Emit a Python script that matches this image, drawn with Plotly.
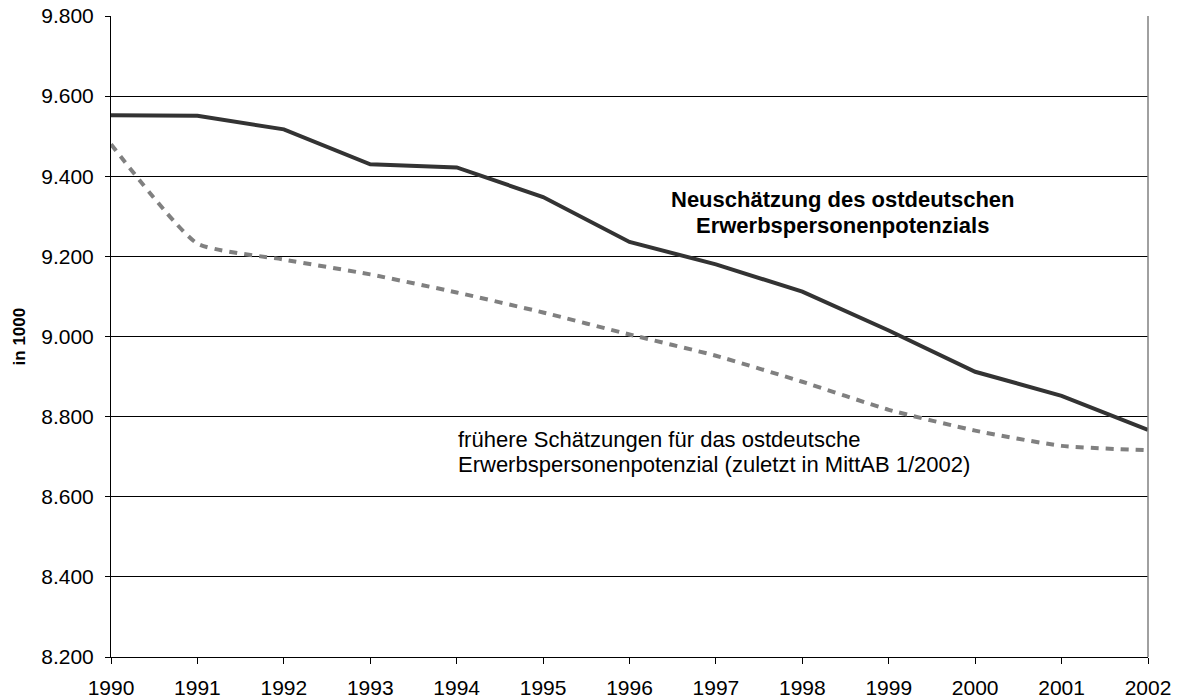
import plotly.graph_objects as go

years = [1990, 1991, 1992, 1993, 1994, 1995, 1996, 1997, 1998, 1999, 2000, 2001, 2002]
neuschaetzung = [9552, 9551, 9517, 9430, 9422, 9348, 9236, 9180, 9112, 9015, 8912, 8852, 8767]
fruehere = [9480, 9232, 9192, 9155, 9110, 9060, 9005, 8952, 8887, 8817, 8765, 8727, 8716]
y_ticks = [8200, 8400, 8600, 8800, 9000, 9200, 9400, 9600, 9800]

label_new = ["Neuschätzung des ostdeutschen", "Erwerbspersonenpotenzials"]
label_old = ["frühere Schätzungen für das ostdeutsche",
             "Erwerbspersonenpotenzial (zuletzt in MittAB 1/2002)"]
y_title = "in 1000"

FONT = "Liberation Sans, Arial, sans-serif"

fig = go.Figure()
fig.add_trace(go.Scatter(
    x=years, y=fruehere, mode="lines",
    line=dict(color="#808080", width=4, dash="8px,7px", shape="spline", smoothing=0.5),
    showlegend=False, hoverinfo="skip"))
fig.add_trace(go.Scatter(
    x=years, y=neuschaetzung, mode="lines",
    line=dict(color="#333333", width=4),
    showlegend=False, hoverinfo="skip"))

for txt, yv in zip(label_new, [9341, 9278]):
    fig.add_annotation(
        x=1998.465, y=yv, xref="x", yref="y", text="<b>" + txt + "</b>",
        showarrow=False, xanchor="center", yanchor="middle", borderpad=0,
        font=dict(family=FONT, size=22, color="#000000"))
for txt, yv in zip(label_old, [8742, 8680]):
    fig.add_annotation(
        x=1994.0, y=yv, xref="x", yref="y", text=txt,
        showarrow=False, xanchor="left", yanchor="middle", borderpad=0,
        font=dict(family=FONT, size=22, color="#000000"))

fig.add_annotation(
    x=-0.0878, y=0.5, xref="paper", yref="paper", text="<b>" + y_title + "</b>",
    textangle=-90, showarrow=False, xanchor="center", yanchor="middle",
    font=dict(family=FONT, size=17, color="#000000"))

fig.update_layout(
    width=1181, height=699,
    margin=dict(l=111, r=33, t=16, b=42, autoexpand=False),
    paper_bgcolor="white", plot_bgcolor="white",
    separators=",.",
    font=dict(family=FONT, size=21, color="#000000"),
)
fig.update_xaxes(
    range=[1990, 2002], tickvals=years, ticktext=[str(y) for y in years],
    showline=True, linecolor="#000000", linewidth=1,
    ticks="outside", ticklen=6, tickcolor="#000000",
    showgrid=False, zeroline=False, automargin=False,
    ticklabelstandoff=6, ticklabeloverflow="allow",
    tickfont=dict(size=21),
)
fig.update_yaxes(
    range=[8200, 9800], tickvals=y_ticks, tickformat=",d",
    showline=True, linecolor="#000000", linewidth=1,
    ticks="outside", ticklen=5, tickcolor="#000000",
    showgrid=True, gridcolor="#000000", gridwidth=1, zeroline=False,
    automargin=False, ticklabelstandoff=7, ticklabeloverflow="allow",
    tickfont=dict(size=21),
)
fig.add_shape(type="line", xref="paper", yref="paper", x0=1, x1=1, y0=0, y1=1,
              line=dict(color="#808080", width=1.5))

fig.write_html(
    "out.html",
    config={"displayModeBar": False},
    post_script="document.body.style.margin='0';document.body.style.overflow='hidden';",
)
